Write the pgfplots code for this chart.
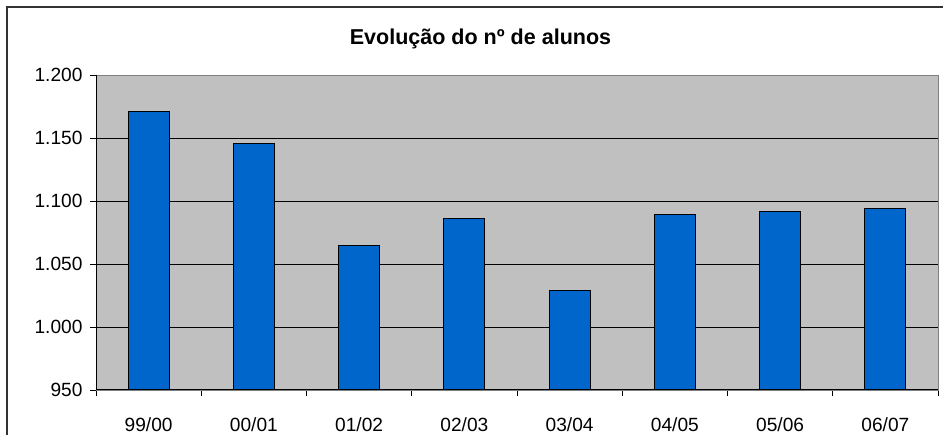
\documentclass[border=0pt]{standalone}
\usepackage{pgfplots}
\pgfplotsset{compat=1.18}
\usepackage{fontspec}
\setmainfont{Liberation Sans}
\definecolor{barblue}{HTML}{0066CC}
\definecolor{plotgray}{HTML}{C0C0C0}
\begin{document}
\begin{tikzpicture}
\useasboundingbox (0bp,0bp) rectangle (943bp,435bp);
\draw[line width=1.2bp, black!80] (7bp,0bp) -- (7bp,428bp) -- (943bp,428bp);
\node[anchor=base, inner sep=0pt, font=\fontsize{21.6}{24}\selectfont\bfseries] at (480.5bp,390bp) {Evolução do nº de alunos};
\begin{axis}[
  name=ax,
  at={(96bp,45bp)}, anchor=south west,
  width=842bp, height=315bp, scale only axis,
  xmin=-0.5, xmax=7.5, ymin=950, ymax=1200,
  axis background/.style={fill=plotgray},
  axis line style={draw=gray, line width=0.8bp},
  xtick={0,...,7},
  xticklabels={99/00,00/01,01/02,02/03,03/04,04/05,05/06,06/07},
  minor xtick={-0.5,0.5,...,7.5},
  major x tick style={draw=none},
  ytick={950,1000,...,1150},
  extra y ticks={1200},
  extra y tick style={grid=none},
  ymajorgrids,
  grid style={black, line width=0.8bp},
  tick align=outside,
  xtick pos=bottom, ytick pos=left,
  tick style={black, line width=0.8bp},
  major tick length=6bp,
  minor tick length=6bp,
  tick label style={font=\fontsize{19.2}{21}\selectfont},
  yticklabel style={anchor=east, xshift=-4bp},
  xticklabel style={anchor=base, yshift=-35bp},
  /pgf/number format/.cd, 1000 sep={.}, assume math mode=true,
]
\addplot[ybar, bar width=41bp, fill=barblue, draw=black, line width=1bp]
  coordinates {(0,1171) (1,1146) (2,1065) (3,1086) (4,1029) (5,1089) (6,1092) (7,1094)};
\end{axis}
\draw[black, line width=1bp] (ax.north west) -- (ax.south west) -- (ax.south east);
\end{tikzpicture}
\end{document}
